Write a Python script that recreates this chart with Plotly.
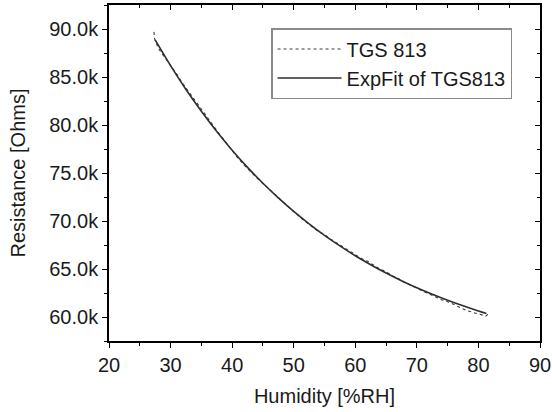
import plotly.graph_objects as go

# Measured sensor data (TGS 813)
hum_meas = [27.3, 27.4, 28, 29, 30, 31, 32, 33, 34, 35, 36, 37, 38, 39, 40, 41, 42, 43, 44, 45,
            46, 47, 48, 49, 50, 51, 52, 53, 54, 55, 56, 57, 58, 59, 60, 61, 62, 63, 64, 65,
            66, 67, 68, 69, 70, 71, 72, 73, 74, 75, 76, 77, 78, 79, 80, 80.6, 81.2, 81.6]
res_meas = [89700, 89000, 88000, 87100, 86300, 85300, 84300, 83400, 82500, 81700, 80800, 79900,
            79000, 78200, 77300, 76500, 75800, 75100, 74500, 73900, 73300, 72700, 72100, 71500,
            70900, 70400, 69900, 69400, 68900, 68600, 68100, 67700, 67300, 66900, 66500, 66100,
            65800, 65400, 65000, 64700, 64300, 64000, 63600, 63300, 63000, 62700, 62400, 62100,
            61800, 61600, 61300, 61000, 60700, 60500, 60350, 60200, 60100, 60300]

# Exponential fit curve
hum_fit = [27.5, 30, 32.5, 35, 37.5, 40, 42.5, 45, 47.5, 50, 52.5, 55, 57.5, 60, 62.5, 65,
           67.5, 70, 72.5, 75, 77.5, 80, 81.3]
res_fit = [88860, 86180, 83700, 81430, 79320, 77380, 75590, 73930, 72410, 71000, 69710, 68510,
           67410, 66380, 65450, 64580, 63780, 63040, 62360, 61740, 61160, 60620, 60360]

x_ticks = [20, 30, 40, 50, 60, 70, 80, 90]
y_ticks = [60000, 65000, 70000, 75000, 80000, 85000, 90000]
y_tick_text = ["60.0k", "65.0k", "70.0k", "75.0k", "80.0k", "85.0k", "90.0k"]

FONT = "Liberation Sans, Arial, sans-serif"
XR = [20, 90]
YR = [57500, 92500]

fig = go.Figure()
fig.add_trace(go.Scatter(x=hum_meas, y=res_meas, mode="lines", name="TGS 813",
                         line=dict(color="#3a3a3a", width=1.1, dash="dot")))
fig.add_trace(go.Scatter(x=hum_fit, y=res_fit, mode="lines", name="ExpFit of TGS813",
                         line=dict(color="#2e2e2e", width=1.6), line_shape="spline"))
# invisible trace to carry mirrored axes
fig.add_trace(go.Scatter(x=[None], y=[None], xaxis="x2", yaxis="y2", showlegend=False,
                         hoverinfo="skip"))

common = dict(showgrid=False, zeroline=False, showline=True, linecolor="black", linewidth=1.6,
              tickcolor="black", tickwidth=1.4, automargin=False)

fig.update_layout(
    width=552, height=412,
    margin=dict(l=109, r=12, t=5, b=71),
    paper_bgcolor="white", plot_bgcolor="white",
    font=dict(family=FONT, size=20, color="#1a1a1a"),
    showlegend=True,
    legend=dict(x=0.376, y=0.9315, xanchor="left", yanchor="top",
                bgcolor="white", bordercolor="#8a8a8a", borderwidth=1.5,
                font=dict(family=FONT, size=20), itemwidth=64, tracegroupgap=0),
    xaxis=dict(range=XR, tickvals=x_ticks, ticks="outside", ticklen=5,
               minor=dict(dtick=5, ticks="outside", ticklen=3, tickcolor="black", tickwidth=1.4),
               title=dict(text="Humidity [%RH]", standoff=14, font=dict(size=20)),
               mirror=True, **common),
    yaxis=dict(range=YR, tickvals=y_ticks, ticktext=y_tick_text, ticks="outside", ticklen=5,
               minor=dict(dtick=2500, ticks="outside", ticklen=3, tickcolor="black", tickwidth=1.4),
               title=dict(text="Resistance [Ohms]", standoff=18, font=dict(size=20)),
               mirror=True, **common),
    xaxis2=dict(range=XR, overlaying="x", side="top", anchor="y2", tickvals=x_ticks,
                ticks="inside", ticklen=5, showticklabels=False,
                minor=dict(dtick=5, ticks="inside", ticklen=3, tickcolor="black", tickwidth=1.4),
                **common),
    yaxis2=dict(range=YR, overlaying="y", side="right", anchor="x2", tickvals=y_ticks,
                ticks="inside", ticklen=5, showticklabels=False,
                minor=dict(dtick=2500, ticks="inside", ticklen=3, tickcolor="black", tickwidth=1.4),
                **common),
)

fig.write_html("out.html", config={"displayModeBar": False},
               post_script="document.body.style.margin='0';")
